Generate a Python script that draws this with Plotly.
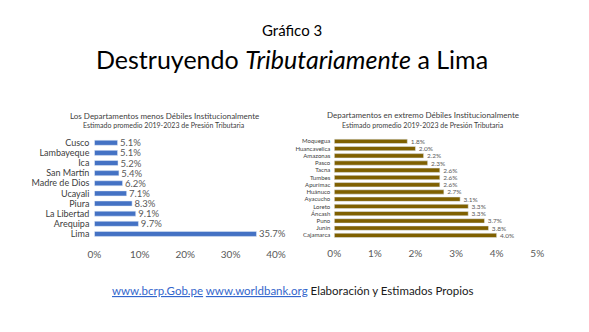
import plotly.graph_objects as go

# Left chart data
left_cats = ["Cusco", "Lambayeque", "Ica", "San Martín", "Madre de Dios",
             "Ucayali", "Piura", "La Libertad", "Arequipa", "Lima"]
left_vals = [5.1, 5.1, 5.2, 5.4, 6.2, 7.1, 8.3, 9.1, 9.7, 35.7]
left_ticks = [0, 10, 20, 30, 40]

# Right chart data
right_cats = ["Moquegua", "Huancavelica", "Amazonas", "Pasco", "Tacna", "Tumbes",
              "Apurímac", "Huánuco", "Ayacucho", "Loreto", "Áncash", "Puno",
              "Junín", "Cajamarca"]
right_vals = [1.8, 2.0, 2.2, 2.3, 2.6, 2.6, 2.6, 2.7, 3.1, 3.3, 3.3, 3.7, 3.8, 4.0]
right_ticks = [0, 1, 2, 3, 4, 5]

FONT = "Lato"
W, H = 589, 332

fig = go.Figure()

fig.add_trace(go.Bar(
    x=left_vals, y=left_cats, orientation="h",
    marker=dict(color="#4472C4"), width=0.5,
    text=[f"\u00a0{v:.1f}%" for v in left_vals], textposition="outside",
    constraintext="none",
    textfont=dict(family=FONT, size=9.5, color="#595959"),
    cliponaxis=False, xaxis="x", yaxis="y",
))
fig.add_trace(go.Bar(
    x=right_vals, y=right_cats, orientation="h",
    marker=dict(color="#7F6000"), width=0.6,
    text=[f"\u00a0\u00a0{v:.1f}%" for v in right_vals], textposition="outside",
    constraintext="none",
    textfont=dict(family=FONT, size=6.5, color="#595959"),
    cliponaxis=False, xaxis="x2", yaxis="y2",
))

ydom = [0.281, 0.587]
fig.update_layout(
    width=W, height=H,
    margin=dict(l=0, r=0, t=0, b=0),
    paper_bgcolor="white", plot_bgcolor="white",
    showlegend=False,
    font=dict(family=FONT, color="#595959"),
    xaxis=dict(domain=[90/W, 277/W], range=[0, 40], tickvals=left_ticks,
               ticktext=[f"{t}%" for t in left_ticks], showgrid=False,
               zeroline=False, showline=False, anchor="y",
               tickfont=dict(family=FONT, size=10, color="#595959"),
               ticklabelstandoff=8),
    yaxis=dict(domain=ydom, autorange="reversed", showgrid=False,
               zeroline=False, showline=False, anchor="x",
               tickmode="array", tickvals=left_cats, ticktext=left_cats,
               tickfont=dict(family=FONT, size=9, color="#404040"),
               ticklabelstandoff=4),
    xaxis2=dict(domain=[337/W, 546/W], range=[0, 5], tickvals=right_ticks,
                ticktext=[f"{t}%" for t in right_ticks], showgrid=False,
                zeroline=False, showline=False, anchor="y2",
                tickfont=dict(family=FONT, size=10, color="#595959"),
                ticklabelstandoff=7),
    yaxis2=dict(domain=ydom, autorange="reversed", showgrid=False,
                zeroline=False, showline=False, anchor="x2",
                tickmode="array", tickvals=right_cats, ticktext=right_cats,
                tickfont=dict(family=FONT, size=6, color="#404040"),
                ticklabelstandoff=3),
)

def ann(text, x, y, size, color="#000000", xanchor="center"):
    fig.add_annotation(text=text, x=x/W, y=1 - y/H, xref="paper", yref="paper",
                       showarrow=False, xanchor=xanchor, yanchor="middle",
                       font=dict(family=FONT, size=size, color=color))

ann("Gráfico 3", 293, 29, 15)
ann("Destruyendo <i>Tributariamente</i> a Lima", 293, 58, 25)
ann("Los Departamentos menos Débiles Institucionalmente", 162, 115, 8, "#404040")
ann("Estimado promedio 2019-2023 de Presión Tributaria", 162, 124, 7, "#404040")
ann("Departamentos en extremo Débiles Institucionalmente", 428, 114, 8, "#404040")
ann("Estimado promedio 2019-2023 de Presión Tributaria", 428, 124, 7, "#404040")
ann("<span style='color:#3366CC'><u>www.bcrp.Gob.pe</u></span> "
    "<span style='color:#3366CC'><u>www.worldbank.org</u></span> "
    "Elaboración y Estimados Propios", 294, 290, 11.5, "#1a1a1a")

fig.write_html("out.html")
